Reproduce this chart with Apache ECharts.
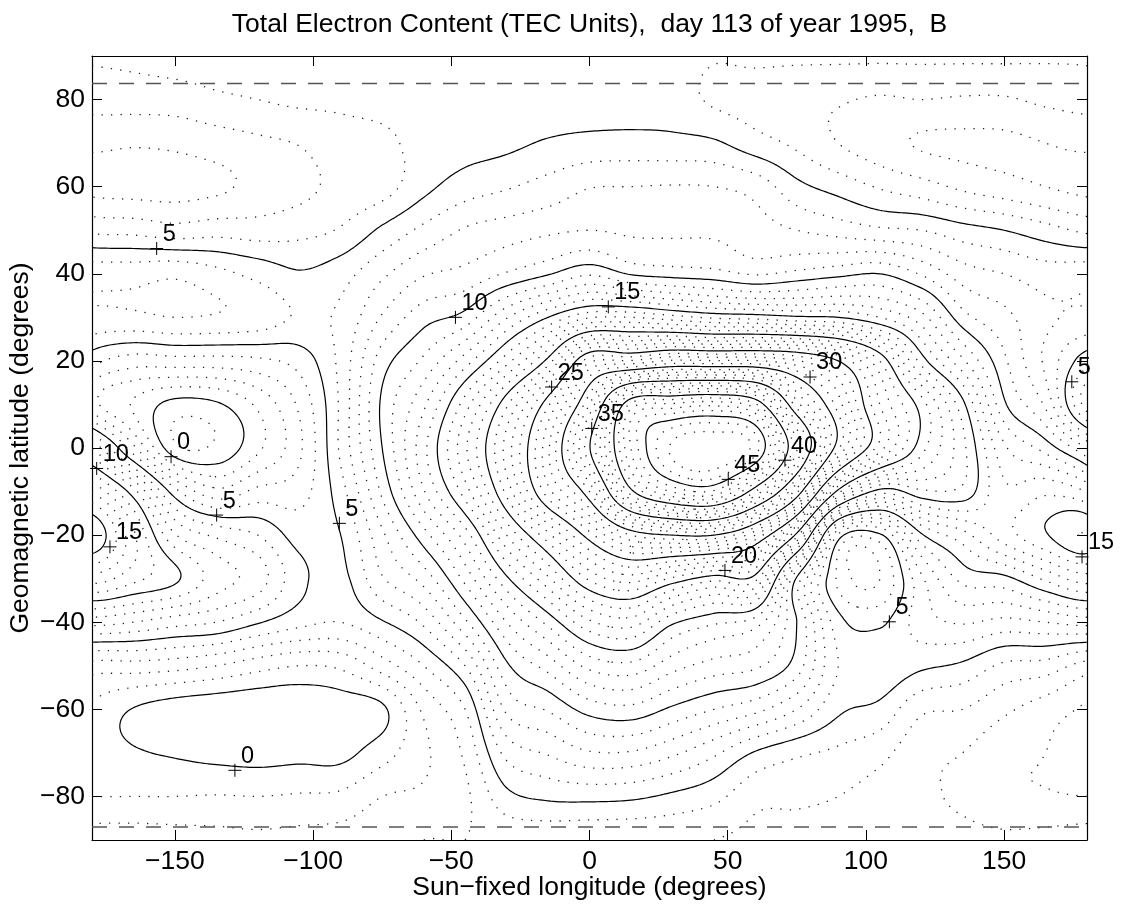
<!DOCTYPE html>
<html>
<head>
<meta charset="utf-8">
<script src="https://cdn.jsdelivr.net/npm/echarts@6/dist/echarts.min.js"></script>
<style>
html,body{margin:0;padding:0;background:#fff;}
#chart{width:1122px;height:907px;}
</style>
</head>
<body>
<div id="chart"></div>
<script>
// ---- tick labels ----
const lonTicks = [-150, -100, -50, 0, 50, 100, 150];
const latTicks = [-80, -60, -40, -20, 0, 20, 40, 60, 80];

// ---- TEC grid: longitudes (columns) and latitudes (rows, north to south) ----
const lonGrid = [-180,-165,-150,-135,-120,-105,-90,-75,-60,-45,-30,-15,0,15,30,45,60,75,90,105,120,135,150,165,180];
const latGrid = [90,80,70,60,50,40,30,20,10,0,-10,-20,-30,-40,-50,-60,-70,-80,-90];

const tecN90 = [4.1,4.2,4.4,4.5,4.6,4.7,4.7,4.75,4.8,4.85,4.9,4.9,4.6,4.55,4.35,4.05,4.15,4.15,4.15,4.15,4.15,4.15,4.15,4.1,4.1];
const tecN80 = [3.4,3.45,3.5,3.8,4.0,4.2,4.2,4.3,4.5,4.7,4.75,4.6,4.5,4.5,4.45,3.85,3.6,3.3,3.1,2.9,3.0,2.9,2.9,3.2,3.4];
const tecN70 = [2.2,2.1,2.2,2.5,2.8,3.05,3.6,3.8,4.3,4.6,4.8,5.1,5.3,5.35,5.3,5.15,4.4,3.8,3.0,2.4,1.9,1.8,1.8,2.0,2.2];
const tecN60 = [1.7,1.6,1.6,1.8,2.3,2.7,3.3,3.6,4.7,5.5,5.9,6.4,6.95,7.0,7.05,7.0,6.6,5.3,4.6,3.9,3.4,2.8,2.4,2.0,1.7];
const tecN50 = [3.8,3.7,3.4,3.6,3.5,3.7,4.1,5.2,6.25,7.1,7.5,7.8,8.0,7.8,7.8,7.8,7.5,7.0,6.6,6.2,6.0,5.4,5.0,4.4,3.8];
const tecN40 = [6.6,6.6,6.8,6.3,5.7,5.1,5.6,6.8,7.9,8.3,9.1,9.9,10.85,9.9,9.6,9.4,8.9,9.3,9.7,10.0,8.9,7.5,7.0,6.5,6.6];
const tecN30 = [6.8,6.8,7.0,6.9,6.6,5.9,6.2,8.1,9.6,10.4,12.9,15.0,16.9,17.0,16.4,15.8,15.6,15.2,15.0,14.0,12.4,9.4,8.3,7.2,6.8];
const tecN20 = [4.4,3.5,3.6,3.6,3.8,4.4,6.3,9.5,11.2,13.5,16.6,20.4,26.7,27.1,28.2,28.1,28.1,27.1,25.0,21.0,15.6,12.2,9.2,6.8,4.4];
const tecN10 = [2.5,0.9,-0.35,-0.15,1.2,3.2,6.2,10.2,12.8,16.5,20.8,25.8,32.0,41.3,42.2,42.7,41.2,33.5,28.5,23.0,19.5,15.3,10.2,7.8,2.5];
const tecEq  = [7.9,3.3,-0.75,-0.8,0.8,2.8,6.2,10.0,13.7,17.8,22.4,27.8,34.9,43.0,47.2,47.8,46.5,38.1,29.2,23.5,19.4,16.3,12.2,10.6,7.9];
const tecS10 = [12.9,9.4,4.4,2.3,3.3,3.6,5.6,9.2,12.9,16.5,21.3,26.6,31.0,39.6,43.1,43.8,39.0,31.3,19.5,14.5,15.8,15.7,13.2,13.8,12.9];
const tecS20 = [15.9,12.2,8.1,6.8,6.0,4.6,5.0,7.8,10.6,13.5,18.0,21.7,25.6,29.0,30.0,30.0,27.0,19.5,5.8,4.8,9.8,11.6,13.5,14.9,15.9];
const tecS30 = [12.5,11.3,10.2,8.5,7.5,5.3,4.7,6.9,8.4,11.3,14.8,17.8,21.2,22.5,20.8,19.4,19.4,9.8,3.8,3.0,6.8,9.3,9.7,11.2,12.5];
const tecS40 = [7.4,7.0,6.4,6.0,5.1,4.3,4.0,4.9,6.2,8.8,12.0,14.3,16.8,17.5,15.2,14.2,13.5,10.0,5.4,4.8,6.5,7.1,6.7,7.0,7.4];
const tecS50 = [2.6,2.6,2.4,2.0,1.4,1.0,1.2,2.5,4.0,6.0,9.8,11.4,13.3,13.7,12.4,11.6,11.2,9.5,6.0,5.8,5.2,4.8,3.8,3.6,2.6];
const tecS60 = [0.8,-0.05,-0.5,-0.7,-0.8,-0.8,-0.6,-0.2,2.2,4.0,8.2,9.1,10.4,10.7,9.8,9.0,8.3,7.0,5.2,4.7,3.2,3.0,2.2,1.5,0.8];
const tecS70 = [0.5,0.1,-0.1,-0.3,-0.4,-0.3,-0.3,0.6,1.8,3.2,6.3,7.1,7.9,7.9,7.2,6.2,4.9,4.2,3.8,3.3,2.3,2.0,1.3,1.0,0.5];
const tecS80 = [1.0,1.0,1.0,1.05,1.0,1.1,1.2,2.0,2.2,2.8,4.7,5.2,5.3,5.2,4.8,4.3,3.3,3.2,3.0,2.6,2.2,1.8,1.2,1.1,1.0];
const tecS90 = [2.5,2.5,2.4,2.3,2.2,2.3,2.4,2.7,3.0,3.0,3.3,3.3,3.2,3.2,3.2,3.0,2.8,2.7,2.6,2.5,2.4,2.3,2.2,2.3,2.5];

// ---- contour labels (cross position and level) ----
const labelLon   = [-156.6, -48.5, 6.8, -13.7, 79.8, 0.8, 70.7, 50.2, 49.0, 108.5, 174.5, 178.2, -151.4, -178.3, -134.9, -173.5, -90.5, -128.3];
const labelLat   = [45.8, 30.0, 32.4, 14.0, 16.3, 4.5, -2.8, -7.2, -28.1, -39.9, 15.2, -25.0, -2.0, -4.7, -15.4, -22.7, -17.3, -74.0];
const labelLevel = [5, 10, 15, 25, 30, 35, 40, 45, 20, 5, 5, 15, 0, 10, 5, 15, 5, 0];

// ---- latitude limits of the data coverage (dashed lines) ----
const coverageLats = [83.7, -87.0];

const TEXT_FONT = '"Liberation Sans", Arial, Helvetica, sans-serif';

// table of rows built from the named arrays
const tecRows = [tecN90, tecN80, tecN70, tecN60, tecN50, tecN40, tecN30, tecN20, tecN10, tecEq,
                 tecS10, tecS20, tecS30, tecS40, tecS50, tecS60, tecS70, tecS80, tecS90];

const lonStep = lonGrid[1] - lonGrid[0];
const latStep = latGrid[0] - latGrid[1];
const nUniqueLon = lonGrid.length - 1;          // 180 repeats -180
const nRows = latGrid.length;

function coarse(r, c) {
  r = Math.max(0, Math.min(nRows - 1, r));
  c = ((c % nUniqueLon) + nUniqueLon) % nUniqueLon;
  return tecRows[r][c];
}
function catmull(p0, p1, p2, p3, t) {
  return 0.5 * (2 * p1 + (-p0 + p2) * t + (2 * p0 - 5 * p1 + 4 * p2 - p3) * t * t +
                (-p0 + 3 * p1 - 3 * p2 + p3) * t * t * t);
}
// smooth TEC surface between grid nodes (periodic in longitude)
function tecAt(lon, lat) {
  const u = (lon - lonGrid[0]) / lonStep;
  const v = (latGrid[0] - lat) / latStep;
  const i = Math.floor(u), j = Math.floor(v);
  const fu = u - i, fv = v - j;
  const col = [];
  for (let m = -1; m <= 2; m++) {
    col.push(catmull(coarse(j + m, i - 1), coarse(j + m, i), coarse(j + m, i + 1), coarse(j + m, i + 2), fu));
  }
  return catmull(col[0], col[1], col[2], col[3], fv);
}

// ---- sample the surface on a fine lattice ----
const FLON0 = -180, FLAT0 = -90, FDLON = 1, FDLAT = 0.5;
const NX = 361, NY = 361;
const F = new Float64Array(NX * NY);
let fMin = Infinity, fMax = -Infinity;
for (let j = 0; j < NY; j++) {
  for (let i = 0; i < NX; i++) {
    const val = tecAt(FLON0 + i * FDLON, FLAT0 + j * FDLAT);
    F[j * NX + i] = val;
    if (val < fMin) fMin = val;
    if (val > fMax) fMax = val;
  }
}

// ---- marching squares, joined into polylines ----
function isoLines(L) {
  const segs = [];
  for (let j = 0; j < NY - 1; j++) {
    for (let i = 0; i < NX - 1; i++) {
      const a = F[j * NX + i], b = F[j * NX + i + 1], c = F[(j + 1) * NX + i + 1], d = F[(j + 1) * NX + i];
      const A = a >= L, B = b >= L, C = c >= L, D = d >= L;
      if (A === B && B === C && C === D) continue;
      const eB = A !== B ? { k: 'h' + i + '_' + j, p: [FLON0 + (i + (L - a) / (b - a)) * FDLON, FLAT0 + j * FDLAT] } : null;
      const eR = B !== C ? { k: 'v' + (i + 1) + '_' + j, p: [FLON0 + (i + 1) * FDLON, FLAT0 + (j + (L - b) / (c - b)) * FDLAT] } : null;
      const eT = D !== C ? { k: 'h' + i + '_' + (j + 1), p: [FLON0 + (i + (L - d) / (c - d)) * FDLON, FLAT0 + (j + 1) * FDLAT] } : null;
      const eL = A !== D ? { k: 'v' + i + '_' + j, p: [FLON0 + i * FDLON, FLAT0 + (j + (L - a) / (d - a)) * FDLAT] } : null;
      const es = [eB, eR, eT, eL].filter(Boolean);
      if (es.length === 2) {
        segs.push([es[0], es[1]]);
      } else if (es.length === 4) {
        const ctr = (a + b + c + d) / 4 >= L;
        if (ctr === A) { segs.push([eB, eR]); segs.push([eT, eL]); }
        else { segs.push([eB, eL]); segs.push([eR, eT]); }
      }
    }
  }
  const byKey = new Map();
  segs.forEach((s, idx) => {
    for (const e of s) {
      let l = byKey.get(e.k);
      if (!l) { l = []; byKey.set(e.k, l); }
      l.push(idx);
    }
  });
  const used = new Uint8Array(segs.length);
  const follow = (key, list) => {
    for (;;) {
      const ids = byKey.get(key);
      let nxt = -1;
      for (const id of ids) if (!used[id]) { nxt = id; break; }
      if (nxt < 0) return;
      used[nxt] = 1;
      const s = segs[nxt];
      const other = s[0].k === key ? s[1] : s[0];
      list.push(other.p);
      key = other.k;
    }
  };
  const out = [];
  for (let s0 = 0; s0 < segs.length; s0++) {
    if (used[s0]) continue;
    used[s0] = 1;
    const fwd = [], back = [];
    follow(segs[s0][1].k, fwd);
    follow(segs[s0][0].k, back);
    out.push(back.reverse().concat([segs[s0][0].p, segs[s0][1].p], fwd));
  }
  return out;
}

// every whole TEC unit: solid every 5 units, dotted otherwise
const solidLines = [], dottedLines = [];
for (let L = Math.ceil(fMin); L <= Math.floor(fMax); L++) {
  const lines = isoLines(L);
  for (const pl of lines) {
    if (pl.length < 2) continue;
    (L % 5 === 0 ? solidLines : dottedLines).push(pl);
  }
}

function polylineSeries(name, lines, style) {
  return {
    name: name,
    type: 'custom',
    coordinateSystem: 'cartesian2d',
    clip: true,
    silent: true,
    animation: false,
    data: lines.map(pl => pl[0]),
    encode: { x: 0, y: 1 },
    renderItem: function (params, api) {
      const pts = lines[params.dataIndex].map(p => api.coord(p));
      return { type: 'polyline', shape: { points: pts }, style: Object.assign({ fill: null }, style), silent: true };
    },
    z: 2
  };
}

const minusFmt = v => (v < 0 ? '\u2212' + Math.abs(v) : String(v));

const chart = echarts.init(document.getElementById('chart'), null, { renderer: 'canvas' });

const axisCommon = {
  type: 'value',
  axisLine: { show: true, onZero: false, lineStyle: { color: '#000', width: 1.2 } },
  splitLine: { show: false }
};

chart.setOption({
  animation: false,
  backgroundColor: '#fff',
  grid: { left: 92, top: 56, width: 995, height: 784, containLabel: false },
  xAxis: [
    Object.assign({}, axisCommon, {
      min: -180, max: 180, position: 'bottom',
      axisTick: { show: true, inside: true, length: 10, customValues: lonTicks, lineStyle: { color: '#000' } },
      axisLabel: { show: true, customValues: lonTicks, formatter: minusFmt, color: '#000', fontSize: 26.5, fontFamily: TEXT_FONT, margin: 8 }
    }),
    Object.assign({}, axisCommon, {
      min: -180, max: 180, position: 'top',
      axisTick: { show: true, inside: true, length: 10, customValues: lonTicks, lineStyle: { color: '#000' } },
      axisLabel: { show: false }
    })
  ],
  yAxis: [
    Object.assign({}, axisCommon, {
      min: -90, max: 90, position: 'left',
      axisTick: { show: true, inside: true, length: 10, customValues: latTicks, lineStyle: { color: '#000' } },
      axisLabel: { show: true, customValues: latTicks, formatter: minusFmt, color: '#000', fontSize: 26.5, fontFamily: TEXT_FONT, margin: 7 }
    }),
    Object.assign({}, axisCommon, {
      min: -90, max: 90, position: 'right',
      axisTick: { show: true, inside: true, length: 10, customValues: latTicks, lineStyle: { color: '#000' } },
      axisLabel: { show: false }
    })
  ],
  graphic: [
    { type: 'text', x: 589.5, y: 25, silent: true,
      style: { text: 'Total Electron Content (TEC Units),  day 113 of year 1995,  B', fill: '#000',
               font: '26.5px ' + TEXT_FONT, textAlign: 'center', textVerticalAlign: 'middle', align: 'center', verticalAlign: 'middle' } },
    { type: 'text', x: 589.5, y: 888, silent: true,
      style: { text: 'Sun\u2212fixed longitude (degrees)', fill: '#000',
               font: '26.5px ' + TEXT_FONT, textAlign: 'center', textVerticalAlign: 'middle', align: 'center', verticalAlign: 'middle' } },
    { type: 'text', x: 21, y: 448, rotation: Math.PI / 2, silent: true,
      style: { text: 'Geomagnetic latitude (degrees)', fill: '#000',
               font: '26.5px ' + TEXT_FONT, textAlign: 'center', textVerticalAlign: 'middle', align: 'center', verticalAlign: 'middle' } }
  ],
  series: [
    polylineSeries('dotted', dottedLines, { stroke: '#222', lineWidth: 1.3, lineDash: [1.3, 8.2], lineCap: 'butt' }),
    polylineSeries('solid', solidLines, { stroke: '#000', lineWidth: 1.2 }),
    {
      type: 'line', name: 'north limit', silent: true, symbol: 'none', animation: false, z: 3,
      data: [[-180, coverageLats[0]], [180, coverageLats[0]]],
      lineStyle: { color: '#555', width: 1.6, type: [15, 12] }
    },
    {
      type: 'line', name: 'south limit', silent: true, symbol: 'none', animation: false, z: 3,
      data: [[-180, coverageLats[1]], [180, coverageLats[1]]],
      lineStyle: { color: '#555', width: 1.6, type: [15, 12] }
    },
    {
      type: 'custom', name: 'labels', coordinateSystem: 'cartesian2d', clip: false, silent: true, animation: false, z: 5,
      data: labelLon.map((lon, i) => [lon, labelLat[i], labelLevel[i]]),
      encode: { x: 0, y: 1 },
      renderItem: function (params, api) {
        const p = api.coord([api.value(0), api.value(1)]);
        const lvl = api.value(2);
        return {
          type: 'group',
          children: [
            { type: 'line', shape: { x1: p[0] - 6.5, y1: p[1], x2: p[0] + 6.5, y2: p[1] }, style: { stroke: '#000', lineWidth: 1 } },
            { type: 'line', shape: { x1: p[0], y1: p[1] - 6.5, x2: p[0], y2: p[1] + 6.5 }, style: { stroke: '#000', lineWidth: 1 } },
            { type: 'text', x: p[0] + 6, y: p[1] - 14,
              style: { text: String(lvl), fill: '#000', font: '23.5px ' + TEXT_FONT,
                       textAlign: 'left', textVerticalAlign: 'middle', align: 'left', verticalAlign: 'middle' } }
          ]
        };
      }
    }
  ]
});
</script>
</body>
</html>
